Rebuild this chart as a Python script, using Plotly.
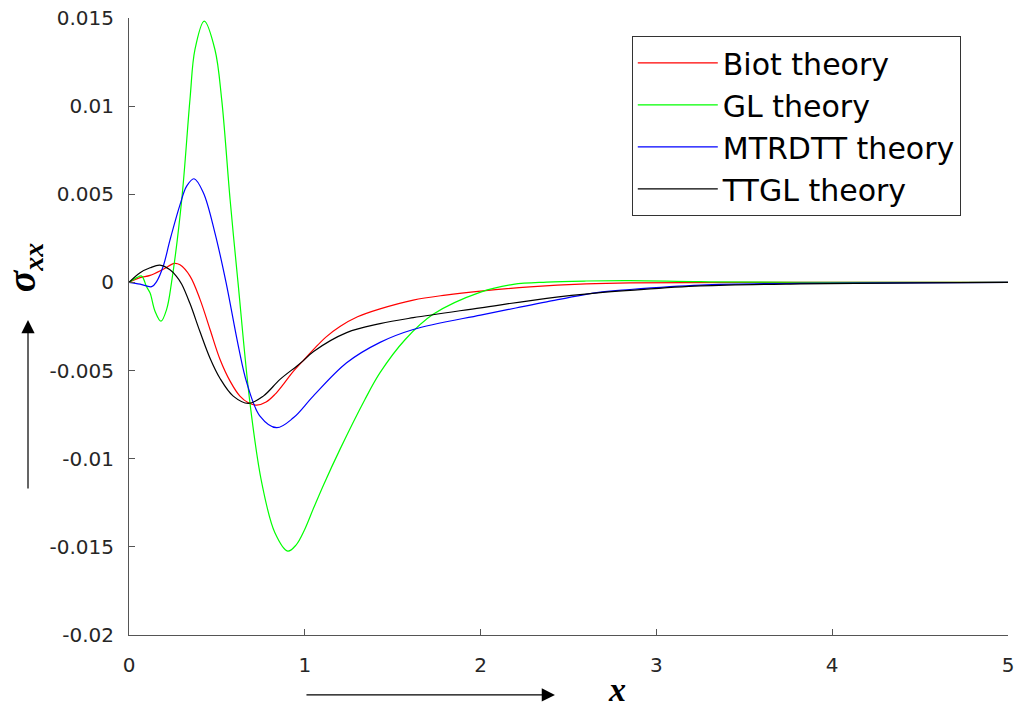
import plotly.graph_objects as go

# ---------------- data ----------------
biot_x = [0, 0.063, 0.12, 0.195, 0.258, 0.29, 0.347, 0.404, 0.461, 0.518, 0.575, 0.631,
          0.679, 0.726, 0.78, 0.83, 0.88, 0.93, 0.99, 1.05, 1.12, 1.2, 1.3, 1.428, 1.617,
          1.8, 2.0, 2.28, 2.6, 2.85, 3.5, 5.0]
biot_y = [0, 0.27e-3, 0.40e-3, 0.75e-3, 1.08e-3, 1.0e-3, 0.36e-3, -0.96e-3, -2.67e-3, -4.37e-3,
          -5.6e-3, -6.45e-3, -6.83e-3, -6.96e-3, -6.78e-3, -6.35e-3, -5.75e-3, -5.1e-3,
          -4.45e-3, -3.8e-3, -3.1e-3, -2.5e-3, -1.95e-3, -1.5e-3, -1.0e-3, -0.72e-3,
          -0.49e-3, -0.25e-3, -0.08e-3, -0.02e-3, 0, 0]

gl_x = [0, 0.044, 0.072, 0.10, 0.12, 0.148, 0.182, 0.214, 0.242, 0.30, 0.347, 0.375, 0.428,
        0.489, 0.527, 0.575, 0.62, 0.688, 0.755, 0.83, 0.903, 0.95, 1.0, 1.05, 1.106, 1.2,
        1.342, 1.428, 1.57, 1.73, 2.0, 2.186, 2.376, 2.6, 2.85, 3.25, 3.8, 5.0]
gl_y = [0, 0.27e-3, 0.36e-3, -0.25e-3, -0.6e-3, -1.63e-3, -2.2e-3, -1.53e-3, 0, 4.7e-3, 10.4e-3,
        13.2e-3, 14.82e-3, 13.2e-3, 10.4e-3, 4.7e-3, 0, -6.83e-3, -11.36e-3, -14.2e-3,
        -15.24e-3, -14.9e-3, -14.0e-3, -12.8e-3, -11.5e-3, -9.47e-3, -6.64e-3, -5.12e-3,
        -3.25e-3, -1.81e-3, -0.55e-3, -0.11e-3, 0.02e-3, 0.08e-3, 0.1e-3, 0.04e-3, 0.01e-3, 0]

mtr_x = [0, 0.063, 0.129, 0.157, 0.195, 0.233, 0.29, 0.328, 0.37, 0.423, 0.489, 0.552, 0.622,
         0.67, 0.745, 0.84, 0.935, 1.048, 1.238, 1.428, 1.617, 2.0, 2.2, 2.376, 2.68, 2.85,
         3.25, 3.82, 5.0]
mtr_y = [0, -0.1e-3, -0.24e-3, 0.05e-3, 0.93e-3, 2.4e-3, 4.4e-3, 5.46e-3, 5.88e-3, 5.09e-3,
         2.8e-3, 0, -3.61e-3, -5.69e-3, -7.58e-3, -8.24e-3, -7.68e-3, -6.45e-3, -4.56e-3,
         -3.4e-3, -2.67e-3, -1.85e-3, -1.45e-3, -1.1e-3, -0.55e-3, -0.4e-3, -0.15e-3,
         -0.05e-3, 0]

ttgl_x = [0, 0.063, 0.12, 0.176, 0.233, 0.27, 0.30, 0.347, 0.404, 0.461, 0.518, 0.593, 0.679,
          0.764, 0.859, 0.954, 0.99, 1.05, 1.238, 1.428, 1.617, 2.0, 2.376, 2.68, 2.85, 3.25,
          3.82, 4.5, 5.0]
ttgl_y = [0, 0.55e-3, 0.83e-3, 0.98e-3, 0.72e-3, 0.35e-3, -0.1e-3, -1.2e-3, -2.8e-3, -4.3e-3,
          -5.45e-3, -6.45e-3, -6.86e-3, -6.45e-3, -5.5e-3, -4.75e-3, -4.45e-3, -3.92e-3,
          -2.85e-3, -2.34e-3, -2.0e-3, -1.44e-3, -0.9e-3, -0.58e-3, -0.45e-3, -0.2e-3,
          -0.08e-3, -0.03e-3, 0]

series_names = ["Biot theory", "GL theory", "MTRDTT theory", "TTGL theory"]
series_colors = ["#ff0000", "#00ff00", "#0000ff", "#000000"]

x_tickvals = [0, 1, 2, 3, 4, 5]
x_ticktext = ["0", "1", "2", "3", "4", "5"]
y_tickvals = [0.015, 0.01, 0.005, 0, -0.005, -0.01, -0.015, -0.02]
y_ticktext = ["0.015", "0.01", "0.005", "0", "-0.005", "-0.01", "-0.015", "-0.02"]

# ---------------- figure ----------------
fig = go.Figure()
for name, color, xs, ys in zip(series_names, series_colors,
                               [biot_x, gl_x, mtr_x, ttgl_x],
                               [biot_y, gl_y, mtr_y, ttgl_y]):
    fig.add_trace(go.Scatter(x=xs, y=ys, mode="lines", name=name,
                             line=dict(color=color, width=1.2, shape="spline", smoothing=1.0)))

tick_font = dict(family="DejaVu Sans", size=20, color="#262626")
axis_common = dict(showline=True, linecolor="#555555", linewidth=1, ticks="inside",
                   ticklen=6, tickcolor="#555555", showgrid=False, zeroline=False,
                   tickfont=tick_font, mirror=False, automargin=False)

fig.update_layout(
    width=1020, height=711,
    margin=dict(l=129, r=12, t=18, b=76),
    paper_bgcolor="white", plot_bgcolor="white",
    xaxis=dict(range=[0, 5], tickvals=x_tickvals, ticktext=x_ticktext,
               ticklabelstandoff=12, **axis_common),
    yaxis=dict(range=[-0.02, 0.015], tickvals=y_tickvals, ticktext=y_ticktext,
               ticklabelstandoff=10, **axis_common),
    legend=dict(x=0.572, y=0.971, xanchor="left", yanchor="top",
                bgcolor="white", bordercolor="#333333", borderwidth=1,
                font=dict(family="DejaVu Sans", size=30, color="black"),
                itemwidth=80, tracegroupgap=0),
    showlegend=True,
)

# axis labels and arrows
fig.add_annotation(xref="paper", yref="paper", x=0.5552, y=-0.0891,
                   xanchor="center", yanchor="middle",
                   text="<b><i>x</i></b>", showarrow=False,
                   font=dict(family="Liberation Serif", size=34, color="black"))
fig.add_annotation(xref="paper", yref="paper", x=-0.1195, y=0.596, textangle=-90,
                   xanchor="center", yanchor="middle",
                   text="<b><i>σ<sub>xx</sub></i></b>", showarrow=False,
                   font=dict(family="Liberation Serif", size=40, color="black"))
fig.add_annotation(xref="paper", yref="paper", x=0.4846, y=-0.0972, ax=-250, ay=0,
                   text="", showarrow=True, arrowhead=2, arrowsize=2.2, arrowwidth=1.2,
                   arrowcolor="black")
fig.add_annotation(xref="paper", yref="paper", x=-0.1149, y=0.5105, ax=0, ay=170,
                   text="", showarrow=True, arrowhead=2, arrowsize=2.2, arrowwidth=1.2,
                   arrowcolor="black")

fig.write_html("out.html")
